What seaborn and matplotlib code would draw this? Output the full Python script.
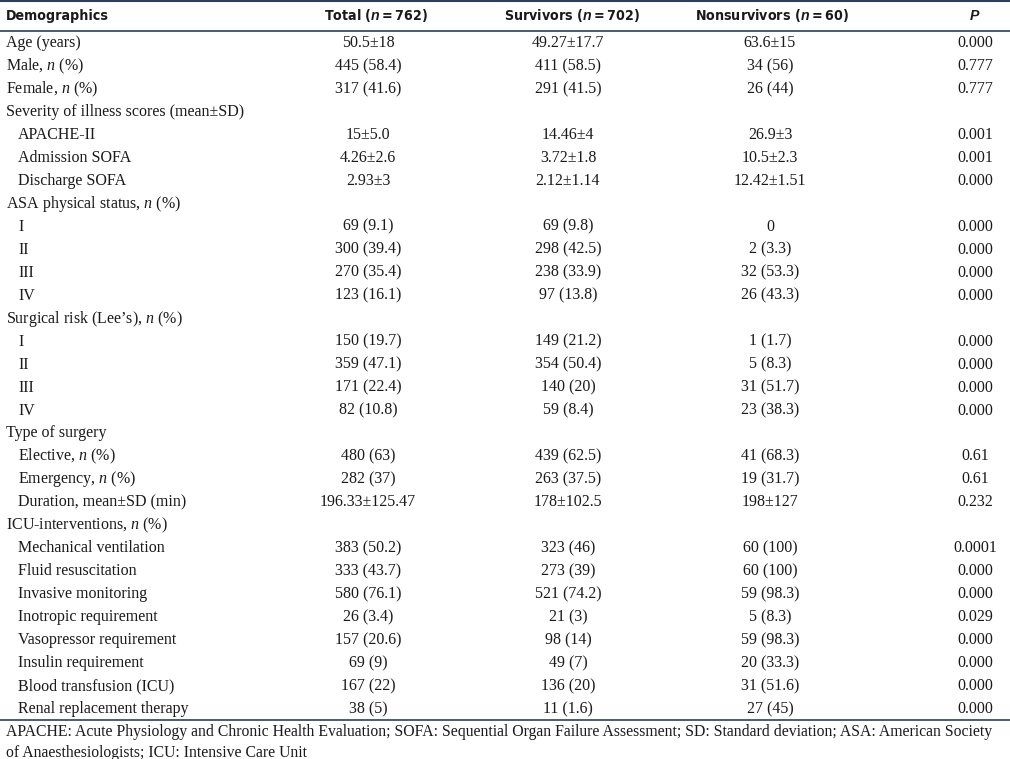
import matplotlib
matplotlib.use("Agg")
import matplotlib.pyplot as plt
import seaborn as sns
import pandas as pd
from matplotlib import font_manager

# -----------------------
# Data
# -----------------------
labels = [
    "Age (years)", "Male, $n$ (%)", "Female, $n$ (%)",
    "Severity of illness scores (mean\u00b1SD)",
    "APACHE-II", "Admission SOFA", "Discharge SOFA",
    "ASA physical status, $n$ (%)", "I", "II", "III", "IV",
    "Surgical risk (Lee\u2019s), $n$ (%)", "I", "II", "III", "IV",
    "Type of surgery", "Elective, $n$ (%)", "Emergency, $n$ (%)",
    "Duration, mean\u00b1SD (min)",
    "ICU-interventions, $n$ (%)",
    "Mechanical ventilation", "Fluid resuscitation", "Invasive monitoring",
    "Inotropic requirement", "Vasopressor requirement",
    "Insulin requirement", "Blood transfusion (ICU)",
    "Renal replacement therapy",
]
subrow = [0, 0, 0, 0, 1, 1, 1, 0, 1, 1, 1, 1, 0, 1, 1, 1, 1,
          0, 1, 1, 1, 0, 1, 1, 1, 1, 1, 1, 1, 1]
total = [
    "50.5\u00b118", "445 (58.4)", "317 (41.6)", "",
    "15\u00b15.0", "4.26\u00b12.6", "2.93\u00b13", "",
    "69 (9.1)", "300 (39.4)", "270 (35.4)", "123 (16.1)", "",
    "150 (19.7)", "359 (47.1)", "171 (22.4)", "82 (10.8)", "",
    "480 (63)", "282 (37)", "196.33\u00b1125.47", "",
    "383 (50.2)", "333 (43.7)", "580 (76.1)", "26 (3.4)", "157 (20.6)",
    "69 (9)", "167 (22)", "38 (5)",
]
survivors = [
    "49.27\u00b117.7", "411 (58.5)", "291 (41.5)", "",
    "14.46\u00b14", "3.72\u00b11.8", "2.12\u00b11.14", "",
    "69 (9.8)", "298 (42.5)", "238 (33.9)", "97 (13.8)", "",
    "149 (21.2)", "354 (50.4)", "140 (20)", "59 (8.4)", "",
    "439 (62.5)", "263 (37.5)", "178\u00b1102.5", "",
    "323 (46)", "273 (39)", "521 (74.2)", "21 (3)", "98 (14)",
    "49 (7)", "136 (20)", "11 (1.6)",
]
nonsurvivors = [
    "63.6\u00b115", "34 (56)", "26 (44)", "",
    "26.9\u00b13", "10.5\u00b12.3", "12.42\u00b11.51", "",
    "0", "2 (3.3)", "32 (53.3)", "26 (43.3)", "",
    "1 (1.7)", "5 (8.3)", "31 (51.7)", "23 (38.3)", "",
    "41 (68.3)", "19 (31.7)", "198\u00b1127", "",
    "60 (100)", "60 (100)", "59 (98.3)", "5 (8.3)", "59 (98.3)",
    "20 (33.3)", "31 (51.6)", "27 (45)",
]
pvalues = [
    "0.000", "0.777", "0.777", "",
    "0.001", "0.001", "0.000", "",
    "0.000", "0.000", "0.000", "0.000", "",
    "0.000", "0.000", "0.000", "0.000", "",
    "0.61", "0.61", "0.232", "",
    "0.0001", "0.000", "0.000", "0.029", "0.000",
    "0.000", "0.000", "0.000",
]
headers = ["Demographics", "Total ($\\mathsf{n}$\u2009=\u2009762)",
           "Survivors ($\\mathsf{n}$\u2009=\u2009702)",
           "Nonsurvivors ($\\mathsf{n}$\u2009=\u200960)", "$\\mathsf{P}$"]
footnote = [
    "APACHE: Acute Physiology and Chronic Health Evaluation; "
    "SOFA: Sequential Organ Failure Assessment; SD: Standard deviation; "
    "ASA: American Society",
    "of Anaesthesiologists; ICU: Intensive Care Unit",
]

df = pd.DataFrame({
    "label": labels, "sub": subrow, "total": total,
    "survivors": survivors, "nonsurvivors": nonsurvivors, "p": pvalues,
})

# -----------------------
# Style
# -----------------------
sns.set_style("white")
fonts = font_manager.fontManager.ttflist
names = {f.name for f in fonts}
head_stretch = "normal"
if "Liberation Sans Narrow" in names:
    head_font = "Liberation Sans Narrow"
elif any(f.name == "DejaVu Sans" and f.stretch == "condensed" for f in fonts):
    head_font, head_stretch = "DejaVu Sans", "condensed"
else:
    head_font = "Liberation Sans"

plt.rcParams["font.family"] = ["Liberation Serif", "DejaVu Serif"]
plt.rcParams["mathtext.fontset"] = "custom"
plt.rcParams["mathtext.it"] = "Liberation Serif:italic"
plt.rcParams["mathtext.rm"] = "Liberation Serif"
plt.rcParams["mathtext.sf"] = "Liberation Sans:italic:bold"

line_color = "#2e3f5c"
text_color = "#1a1a1a"

fig = plt.figure(figsize=(10.10, 7.59), dpi=100)
ax = fig.add_axes([0, 0, 1, 1])
ax.set_xlim(0, 1010)
ax.set_ylim(759, 0)
ax.axis("off")

# -----------------------
# Header
# -----------------------
head_x = [6, 376, 572, 772, 975]
head_ha = ["left", "center", "center", "center", "center"]
for x, h, ha in zip(head_x, headers, head_ha):
    ax.text(x, 16, h, ha=ha, va="center", fontsize=10.2,
            family=[head_font, "DejaVu Sans"], stretch=head_stretch,
            weight="bold", color=text_color)

ax.axhline(1, color=line_color, lw=1.5)
ax.axhline(31, color=line_color, lw=1.2)

# -----------------------
# Body rows
# -----------------------
col_x = [368, 568, 770, 975]
row0, step = 43, 22.97
for i, row in df.iterrows():
    y = row0 + i * step
    ax.text(18 if row["sub"] else 6, y, row["label"], ha="left", va="center",
            fontsize=11.5, color=text_color)
    for x, col in zip(col_x, ["total", "survivors", "nonsurvivors", "p"]):
        if row[col]:
            ax.text(x, y, row[col], ha="center", va="center",
                    fontsize=11.5, color=text_color)

ax.axhline(720, color=line_color, lw=1.2)

# -----------------------
# Footnote
# -----------------------
for j, line in enumerate(footnote):
    ax.text(6, 732 + j * 21, line, ha="left", va="center", fontsize=11.3,
            color=text_color)

plt.savefig("out.png", dpi=100)
